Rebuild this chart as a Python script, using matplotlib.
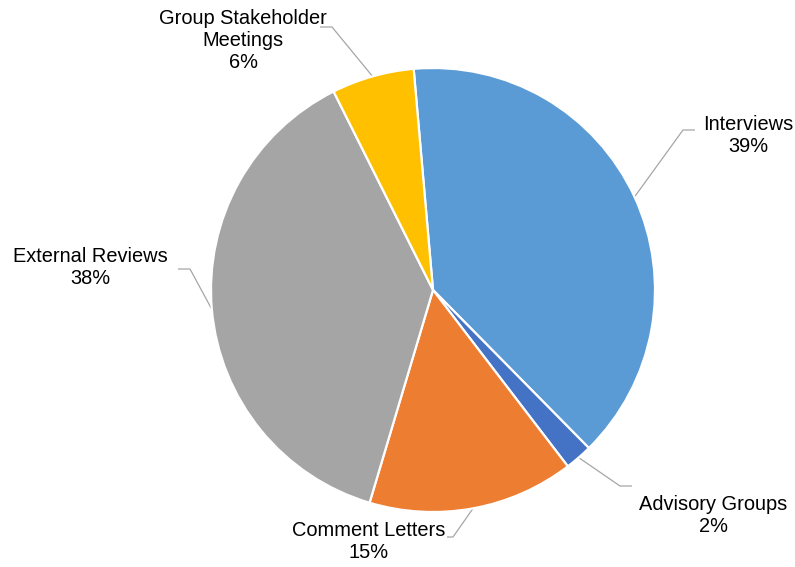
import matplotlib
matplotlib.use("Agg")
import matplotlib.pyplot as plt

# chart data
labels = ["Interviews", "Advisory Groups", "Comment Letters",
          "External Reviews", "Group Stakeholder\nMeetings"]
values = [39, 2, 15, 38, 6]
colors = ["#5B9BD5", "#4472C4", "#ED7D31", "#A5A5A5", "#FFC000"]

W, H = 795, 567
CX, CY, R = 433, 290, 222   # pie centre / radius in pixels

def px(x, y):
    # pixel position -> data coords (radius 1 pie)
    return (x - CX) / R, (CY - y) / R

# label block centres and leader elbow points, in pixels
label_pos = [(748, 136), (713, 515), (369, 541), (90, 267), (243, 41)]
elbows = [[(683, 130), (695, 130)],
          [(620, 486), (632, 486)],
          [(453, 537), (447, 537)],
          [(190, 269), (178, 269)],
          [(332, 27), (320, 27)]]

plt.rcParams["font.family"] = ["Liberation Sans", "DejaVu Sans"]

fig = plt.figure(figsize=(W / 100, H / 100), dpi=100)
ax = fig.add_axes([0, 0, 1, 1])

wedges, _ = ax.pie(values, colors=colors, startangle=95, counterclock=False,
                   radius=1, wedgeprops=dict(edgecolor="white", linewidth=1.6))

total = sum(values)
for w, lab, v, pos, elb in zip(wedges, labels, values, label_pos, elbows):
    import numpy as np
    mid = np.deg2rad((w.theta1 + w.theta2) / 2)
    start = (np.cos(mid), np.sin(mid))
    pts = [start] + [px(*p) for p in elb]
    ax.plot([p[0] for p in pts], [p[1] for p in pts], color="#A6A6A6",
            linewidth=0.9, solid_capstyle="butt", zorder=0)
    tx, ty = px(*pos)
    ax.text(tx, ty, f"{lab}\n{round(100 * v / total)}%", ha="center",
            va="center", fontsize=14.4, color="#000000", linespacing=1.2)

ax.set_xlim(-CX / R, (W - CX) / R)
ax.set_ylim((CY - H) / R, CY / R)
ax.set_aspect("auto")
ax.axis("off")

fig.savefig("out.png", dpi=100, facecolor="white")
